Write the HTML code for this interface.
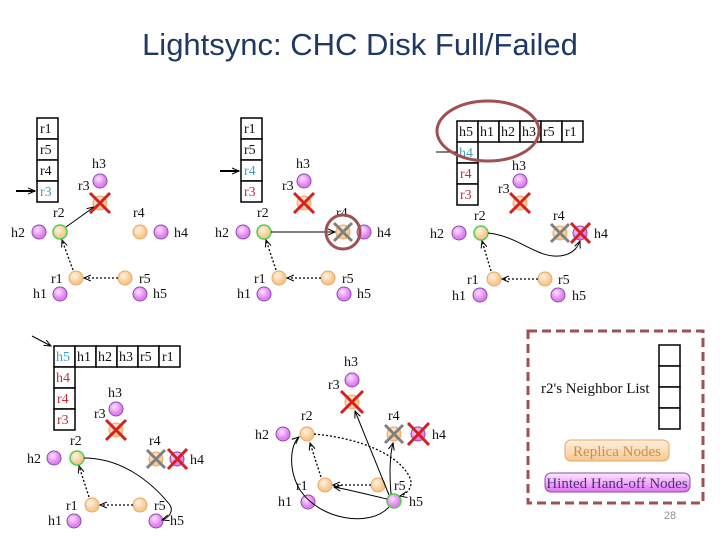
<!DOCTYPE html>
<html><head><meta charset="utf-8"><style>
html,body{margin:0;padding:0;background:#fff;width:720px;height:540px;overflow:hidden}
svg{display:block}
text{font-family:"Liberation Serif",serif;font-size:14px;fill:#111}
.t{font-family:"Liberation Sans",sans-serif;font-size:31px;fill:#1f3864}
.o{fill:url(#go);stroke:#e8a860;stroke-width:1}
.p{fill:url(#gp);stroke:#8a4ab0;stroke-width:1}
.g{fill:url(#go);stroke:#50d050;stroke-width:1.5}
.gp{fill:url(#gp);stroke:#50d050;stroke-width:1.5}
.cell{fill:#fff;stroke:#000;stroke-width:1.5}
.rx{stroke:#d42020;stroke-width:3}
.gx{stroke:#808080;stroke-width:3}
.ln{stroke:#000;stroke-width:1;fill:none}
.dt{stroke:#000;stroke-width:1.3;fill:none;stroke-dasharray:2 2}
</style></head><body>
<svg width="720" height="540" viewBox="0 0 720 540" xmlns="http://www.w3.org/2000/svg">
<defs>
<radialGradient id="go" cx="40%" cy="35%"><stop offset="0" stop-color="#fff3e4"/><stop offset="1" stop-color="#f8c890"/></radialGradient>
<radialGradient id="gp" cx="40%" cy="35%"><stop offset="0" stop-color="#ffe0ff"/><stop offset="1" stop-color="#e080f0"/></radialGradient>
<marker id="a" markerWidth="8" markerHeight="8" refX="7" refY="4" orient="auto" markerUnits="userSpaceOnUse"><path d="M0,1 L7,4 L0,7" fill="none" stroke="#000" stroke-width="1"/></marker>
<linearGradient id="rb" x1="0" y1="0" x2="0" y2="1"><stop offset="0" stop-color="#fff0e0"/><stop offset="1" stop-color="#f8c890"/></linearGradient>
<linearGradient id="hb" x1="0" y1="0" x2="0" y2="1"><stop offset="0" stop-color="#ffe8ff"/><stop offset="1" stop-color="#e070f0"/></linearGradient>
</defs>
<text class="t" x="360" y="55" text-anchor="middle">Lightsync: CHC Disk Full/Failed</text>

<!-- PANEL 1 -->
<g>
<rect class="cell" x="37" y="118" width="21" height="21"/><rect class="cell" x="37" y="139" width="21" height="21"/><rect class="cell" x="37" y="160" width="21" height="21"/><rect class="cell" x="37" y="181" width="21" height="21"/>
<text x="40" y="133">r1</text><text x="40" y="154">r5</text><text x="40" y="175">r4</text><text x="40" y="196" style="fill:#40a0c0">r3</text>
<line class="ln" x1="16" y1="191" x2="35" y2="191" marker-end="url(#a)" style="stroke-width:2"/>
<text x="92" y="168">h3</text><circle class="p" cx="100" cy="181" r="7"/>
<text x="78" y="190">r3</text><circle class="o" cx="100" cy="203" r="7"/>
<text x="53" y="217">r2</text><circle class="g" cx="60" cy="232" r="7"/>
<text x="11" y="237">h2</text><circle class="p" cx="39" cy="232" r="7"/>
<text x="133" y="217">r4</text><circle class="o" cx="140" cy="232" r="7"/>
<circle class="p" cx="161" cy="232" r="7"/><text x="174" y="237">h4</text>
<text x="51" y="283">r1</text><circle class="o" cx="76" cy="278" r="7"/>
<circle class="o" cx="125" cy="278" r="7"/><text x="139" y="283">r5</text>
<text x="33" y="298">h1</text><circle class="p" cx="60" cy="294" r="7"/>
<circle class="p" cx="140" cy="294" r="7"/><text x="153" y="298">h5</text>
<line class="ln" x1="66" y1="227" x2="94" y2="207" marker-end="url(#a)"/>
<line class="dt" x1="73" y1="270" x2="62" y2="240" marker-end="url(#a)"/>
<line class="dt" x1="118" y1="278" x2="84" y2="278" marker-end="url(#a)"/>
<path class="rx" d="M90,193 L110,213 M110,193 L90,213"/>
</g>

<!-- PANEL 2 -->
<g>
<rect class="cell" x="241" y="118" width="21" height="21"/><rect class="cell" x="241" y="139" width="21" height="21"/><rect class="cell" x="241" y="160" width="21" height="21"/><rect class="cell" x="241" y="181" width="21" height="21"/>
<text x="244" y="133">r1</text><text x="244" y="154">r5</text><text x="244" y="175" style="fill:#40a0c0">r4</text><text x="244" y="196" style="fill:#c03040">r3</text>
<line class="ln" x1="220" y1="171" x2="239" y2="171" marker-end="url(#a)" style="stroke-width:2"/>
<text x="296" y="168">h3</text><circle class="p" cx="304" cy="181" r="7"/>
<text x="282" y="190">r3</text><circle class="o" cx="304" cy="203" r="7"/>
<text x="257" y="217">r2</text><circle class="g" cx="264" cy="232" r="7"/>
<text x="215" y="237">h2</text><circle class="p" cx="243" cy="232" r="7"/>
<text x="336" y="217">r4</text><circle class="o" cx="343" cy="232" r="7"/>
<circle class="p" cx="364" cy="232" r="7"/><text x="377" y="237">h4</text>
<text x="254" y="283">r1</text><circle class="o" cx="279" cy="278" r="7"/>
<circle class="o" cx="328" cy="278" r="7"/><text x="342" y="283">r5</text>
<text x="237" y="298">h1</text><circle class="p" cx="264" cy="294" r="7"/>
<circle class="p" cx="344" cy="294" r="7"/><text x="357" y="298">h5</text>
<line class="ln" x1="271" y1="232" x2="335" y2="232" marker-end="url(#a)"/>
<line class="dt" x1="276" y1="270" x2="266" y2="240" marker-end="url(#a)"/>
<line class="dt" x1="321" y1="278" x2="287" y2="278" marker-end="url(#a)"/>
<path class="rx" d="M294,193 L314,213 M314,193 L294,213"/>
<path class="gx" d="M334,223 L352,241 M352,223 L334,241"/>
<circle cx="343" cy="232" r="17" fill="none" stroke="#a05050" stroke-width="3"/>
</g>

<!-- PANEL 3 -->
<g>
<rect class="cell" x="457" y="121" width="21" height="21"/><rect class="cell" x="478" y="121" width="21" height="21"/><rect class="cell" x="499" y="121" width="21" height="21"/><rect class="cell" x="520" y="121" width="21" height="21"/><rect class="cell" x="541" y="121" width="21" height="21"/><rect class="cell" x="562" y="121" width="21" height="21"/>
<rect class="cell" x="457" y="142" width="21" height="21"/><rect class="cell" x="457" y="163" width="21" height="21"/><rect class="cell" x="457" y="184" width="21" height="21"/>
<text x="459" y="136">h5</text><text x="480" y="136">h1</text><text x="501" y="136">h2</text><text x="522" y="136">h3</text><text x="543" y="136">r5</text><text x="565" y="136">r1</text>
<text x="459" y="157" style="fill:#40a0c0">h4</text><text x="460" y="178" style="fill:#c03040">r4</text><text x="460" y="199" style="fill:#c03040">r3</text>
<line class="ln" x1="436" y1="152" x2="456" y2="152"/>
<text x="512" y="170">h3</text><circle class="p" cx="520" cy="181" r="7"/>
<text x="498" y="193">r3</text><circle class="o" cx="520" cy="203" r="7"/>
<text x="474" y="220">r2</text><circle class="g" cx="481" cy="233" r="7"/>
<text x="430" y="238">h2</text><circle class="p" cx="459" cy="233" r="7"/>
<text x="553" y="220">r4</text><circle class="o" cx="560" cy="233" r="7"/>
<circle class="p" cx="580" cy="233" r="7"/><text x="594" y="238">h4</text>
<text x="467" y="284">r1</text><circle class="o" cx="494" cy="279" r="7"/>
<circle class="o" cx="545" cy="279" r="7"/><text x="558" y="284">r5</text>
<text x="452" y="300">h1</text><circle class="p" cx="480" cy="295" r="7"/>
<circle class="p" cx="558" cy="295" r="7"/><text x="572" y="300">h5</text>
<path class="ln" d="M488,233 C520,236 540,262 565,255 C575,252 578,246 580,241" marker-end="url(#a)"/>
<line class="dt" x1="491" y1="271" x2="482" y2="241" marker-end="url(#a)"/>
<line class="dt" x1="538" y1="279" x2="502" y2="279" marker-end="url(#a)"/>
<path class="rx" d="M510,193 L530,213 M530,193 L510,213"/>
<path class="gx" d="M551,224 L569,242 M569,224 L551,242"/>
<path class="rx" d="M571,223 L590,243 M590,223 L571,243"/>
<ellipse cx="488" cy="131" rx="51" ry="30" fill="none" stroke="#a05050" stroke-width="3"/>
</g>

<!-- PANEL 4 -->
<g>
<rect class="cell" x="54" y="346" width="21" height="21"/><rect class="cell" x="75" y="346" width="21" height="21"/><rect class="cell" x="96" y="346" width="21" height="21"/><rect class="cell" x="117" y="346" width="21" height="21"/><rect class="cell" x="138" y="346" width="21" height="21"/><rect class="cell" x="159" y="346" width="21" height="21"/>
<rect class="cell" x="54" y="367" width="21" height="21"/><rect class="cell" x="54" y="388" width="21" height="21"/><rect class="cell" x="54" y="409" width="21" height="21"/>
<text x="56" y="361" style="fill:#40a0c0">h5</text><text x="77" y="361">h1</text><text x="98" y="361">h2</text><text x="119" y="361">h3</text><text x="140" y="361">r5</text><text x="162" y="361">r1</text>
<text x="56" y="382" style="fill:#c03040">h4</text><text x="57" y="403" style="fill:#c03040">r4</text><text x="57" y="424" style="fill:#c03040">r3</text>
<line class="ln" x1="32" y1="336" x2="51" y2="346" marker-end="url(#a)"/>
<text x="108" y="397">h3</text><circle class="p" cx="116" cy="409" r="7"/>
<text x="94" y="418">r3</text><circle class="o" cx="116" cy="430" r="7"/>
<text x="70" y="445">r2</text><circle class="g" cx="77" cy="458" r="7"/>
<text x="27" y="463">h2</text><circle class="p" cx="54" cy="458" r="7"/>
<text x="149" y="445">r4</text><circle class="o" cx="156" cy="459" r="7"/>
<circle class="p" cx="177" cy="459" r="7"/><text x="190" y="464">h4</text>
<text x="66" y="510">r1</text><circle class="o" cx="92" cy="505" r="7"/>
<circle class="o" cx="140" cy="505" r="7"/><text x="154" y="510">r5</text>
<text x="48" y="525">h1</text><circle class="p" cx="74" cy="521" r="7"/>
<circle class="p" cx="156" cy="521" r="7"/><text x="170" y="525">h5</text>
<path class="ln" d="M84,458 C120,458 150,480 170,505 C174,512 168,518 162,520" marker-end="url(#a)"/>
<line class="dt" x1="89" y1="497" x2="79" y2="466" marker-end="url(#a)"/>
<line class="dt" x1="133" y1="505" x2="100" y2="505" marker-end="url(#a)"/>
<path class="rx" d="M106,420 L126,440 M126,420 L106,440"/>
<path class="gx" d="M147,450 L165,468 M165,450 L147,468"/>
<path class="rx" d="M168,449 L187,469 M187,449 L168,469"/>
</g>

<!-- PANEL 5 -->
<g>
<text x="344" y="366">h3</text><circle class="p" cx="352" cy="380" r="7"/>
<text x="328" y="389">r3</text><circle class="o" cx="352" cy="402" r="7"/>
<text x="301" y="420">r2</text><circle class="o" cx="307" cy="434" r="7"/>
<text x="255" y="439">h2</text><circle class="p" cx="283" cy="434" r="7"/>
<text x="388" y="420">r4</text><circle class="o" cx="394" cy="434" r="7"/>
<circle class="p" cx="418" cy="434" r="7"/><text x="432" y="439">h4</text>
<text x="296" y="490">r1</text><circle class="o" cx="325" cy="485" r="7"/>
<circle class="o" cx="378" cy="485" r="7"/><text x="394" y="490">r5</text>
<text x="278" y="506">h1</text><circle class="p" cx="308" cy="502" r="7"/>
<circle class="gp" cx="394" cy="501" r="7"/><text x="409" y="506">h5</text>
<line class="ln" x1="389" y1="495" x2="355" y2="411" marker-end="url(#a)"/>
<path class="ln" d="M391,494 C389,470 390,455 393,443" marker-end="url(#a)"/>
<path class="ln" d="M387,499 C370,495 350,490 334,487" marker-end="url(#a)"/>
<path class="ln" d="M389,507 C370,528 320,520 300,490 C288,470 290,445 299,437" marker-end="url(#a)"/>
<line class="dt" x1="321" y1="477" x2="310" y2="443" marker-end="url(#a)"/>
<line class="dt" x1="371" y1="485" x2="333" y2="485" marker-end="url(#a)"/>
<path class="dt" d="M314,434 C360,438 400,455 410,478 C414,488 405,495 400,496" marker-end="url(#a)"/>
<path class="rx" d="M341,391 L363,413 M363,391 L341,413"/>
<path class="gx" d="M385,425 L403,443 M403,425 L385,443"/>
<path class="rx" d="M408,423 L429,445 M429,423 L408,445"/>
</g>

<!-- LEGEND -->
<rect x="528" y="331" width="175" height="172" fill="none" stroke="#a05050" stroke-width="3" stroke-dasharray="9 5"/>
<rect class="cell" x="659" y="345" width="21" height="21"/><rect class="cell" x="659" y="366" width="21" height="21"/><rect class="cell" x="659" y="387" width="21" height="21"/><rect class="cell" x="659" y="408" width="21" height="21"/>
<text x="541" y="393" style="font-size:15px">r2's Neighbor List</text>
<rect x="565" y="440" width="104" height="21" rx="6" fill="url(#rb)" stroke="#e8a860"/>
<text x="617" y="456" text-anchor="middle" style="fill:#c89050;font-size:15px">Replica Nodes</text>
<rect x="545" y="473" width="145" height="19" rx="6" fill="url(#hb)" stroke="#8a4ab0"/>
<text x="617" y="488" text-anchor="middle" style="fill:#503080;font-size:15px">Hinted Hand-off Nodes</text>
<text x="670" y="519" text-anchor="middle" style="font-family:'Liberation Sans',sans-serif;font-size:11px;fill:#909090">28</text>
</svg>
</body></html>
